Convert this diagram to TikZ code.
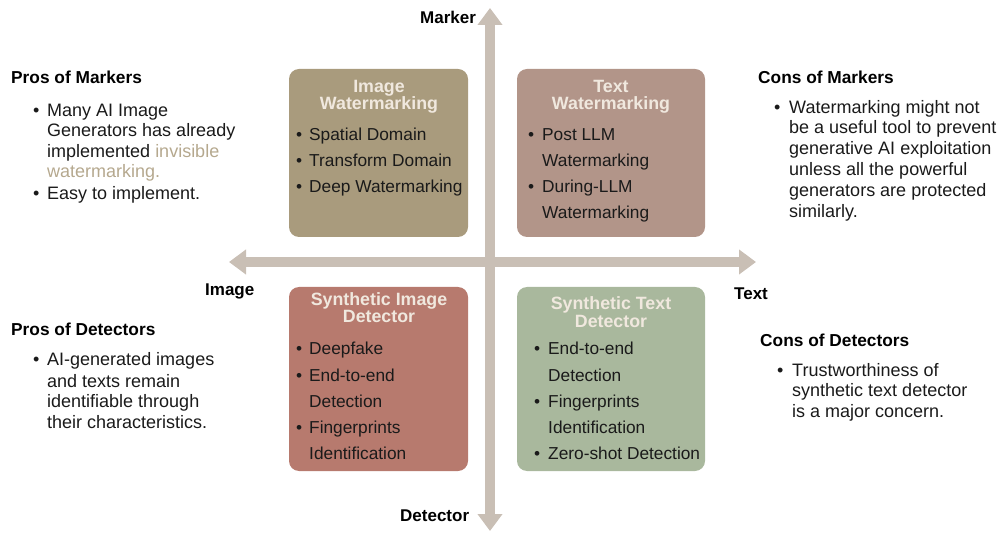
\documentclass[tikz,border=0pt]{standalone}
\usepackage{fontspec}
\setmainfont{Liberation Sans}
\usetikzlibrary{arrows.meta}
\definecolor{axis}{HTML}{C9BFB5}
\definecolor{cIW}{HTML}{A99B7D}
\definecolor{cTW}{HTML}{B29589}
\definecolor{cID}{HTML}{B77A6E}
\definecolor{cTD}{HTML}{A9B89D}
\definecolor{ttl}{HTML}{F0E8DE}
\definecolor{ink}{HTML}{1A1A1A}
\definecolor{hl}{HTML}{B5A88E}
\tikzset{
  qbox/.style={rounded corners=10pt, draw=none},
  sd/.style={anchor=base west, inner sep=0pt, text=ink, font=\fontsize{18}{20}\selectfont},
  hd/.style={anchor=base west, inner sep=0pt, text=black, font=\bfseries\fontsize{17.3}{20}\selectfont},
  ttlst/.style={anchor=base, inner sep=0pt, text=ttl, font=\bfseries\fontsize{17.8}{20}\selectfont},
  bl/.style={anchor=base west, inner sep=0pt, text=ink, font=\fontsize{17.3}{20}\selectfont},
  axlab/.style={anchor=base west, inner sep=0pt, text=black, font=\bfseries\fontsize{17}{20}\selectfont},
  axarrow/.style={draw=axis, line width=10pt, {Triangle[width=24pt,length=17pt]}-{Triangle[width=24pt,length=17pt]}}
}
\newcommand{\bu}{\textbullet}
\begin{document}
\begin{tikzpicture}[x=1pt,y=-1pt]
\useasboundingbox (0,0) rectangle (1006,534);
% axes
\coordinate (top) at (490,8);
\coordinate (bot) at (490,531);
\coordinate (lft) at (229,262);
\coordinate (rgt) at (756,262);
\draw[axarrow] (bot) -- (top);
\draw[axarrow] (lft) -- (rgt);
% axis labels
\node[axlab] (lmarker) at (420,24) {Marker};
\node[axlab] (limage) at (205,296) {Image};
\node[axlab] (ltext) at (734,300) {Text};
\node[axlab] (ldet) at (400,521) {Detector};
% boxes
\fill[qbox, cIW] (289,69) rectangle (468,237);
\fill[qbox, cTW] (517,69) rectangle (705,237);
\fill[qbox, cID] (289,287) rectangle (468,471);
\fill[qbox, cTD] (517,287) rectangle (705,471);
% Image Watermarking
\node[ttlst] (iw1) at (379,93) {Image};
\node[ttlst] (iw2) at (379,110) {Watermarking};
\node[bl] (iwb1) at (296,141) {\bu};
\node[bl] (iw3) at (309,141) {Spatial Domain};
\node[bl] (iwb2) at (296,167) {\bu};
\node[bl] (iw4) at (309,167) {Transform Domain};
\node[bl] (iwb3) at (296,193) {\bu};
\node[bl] (iw5) at (309,193) {Deep Watermarking};
% Text Watermarking
\node[ttlst] (tw1) at (611,93) {Text};
\node[ttlst] (tw2) at (611,110) {Watermarking};
\node[bl] (twb1) at (528,141) {\bu};
\node[bl] (tw3) at (542,141) {Post LLM};
\node[bl] (tw4) at (542,167) {Watermarking};
\node[bl] (twb2) at (528,193) {\bu};
\node[bl] (tw5) at (542,193) {During-LLM};
\node[bl] (tw6) at (542,219) {Watermarking};
% Synthetic Image Detector
\node[ttlst] (id1) at (379,306) {Synthetic Image};
\node[ttlst] (id2) at (379,323) {Detector};
\node[bl] (idb1) at (296,355) {\bu};
\node[bl] (id3) at (309,355) {Deepfake};
\node[bl] (idb2) at (296,381) {\bu};
\node[bl] (id4) at (309,381) {End-to-end};
\node[bl] (id5) at (309,407) {Detection};
\node[bl] (idb3) at (296,433) {\bu};
\node[bl] (id6) at (309,433) {Fingerprints};
\node[bl] (id7) at (309,459) {Identification};
% Synthetic Text Detector
\node[ttlst] (td1) at (611,310) {Synthetic Text};
\node[ttlst] (td2) at (611,327) {Detector};
\node[bl] (tdb1) at (534,355) {\bu};
\node[bl] (td3) at (548,355) {End-to-end};
\node[bl] (td4) at (548,381) {Detection};
\node[bl] (tdb2) at (534,407) {\bu};
\node[bl] (td5) at (548,407) {Fingerprints};
\node[bl] (td6) at (548,433) {Identification};
\node[bl] (tdb3) at (534,459) {\bu};
\node[bl] (td7) at (548,459) {Zero-shot Detection};
% Pros of Markers
\node[hd] (pm) at (11,84) {Pros of Markers};
\node[sd] (pmb1) at (33,117) {\bu};
\node[sd] (pm1) at (47,117) {Many AI Image};
\node[sd] (pm2) at (47,137) {Generators has already};
\node[sd] (pm3) at (47,158) {implemented \textcolor{hl}{invisible}};
\node[sd] (pm4) at (47,178) {\textcolor{hl}{watermarking.}};
\node[sd] (pmb2) at (33,200) {\bu};
\node[sd] (pm5) at (47,200) {Easy to implement.};
% Cons of Markers
\node[hd] (cm) at (758,84) {Cons of Markers};
\node[sd] (cmb1) at (774,114) {\bu};
\node[sd] (cm1) at (789,114) {Watermarking might not};
\node[sd] (cm2) at (789,134) {be a useful tool to prevent};
\node[sd] (cm3) at (789,155) {generative AI exploitation};
\node[sd] (cm4) at (789,176) {unless all the powerful};
\node[sd] (cm5) at (789,197) {generators are protected};
\node[sd] (cm6) at (789,218) {similarly.};
% Pros of Detectors
\node[hd] (pd) at (11,336) {Pros of Detectors};
\node[sd] (pdb1) at (33,366) {\bu};
\node[sd] (pd1) at (47,366) {AI-generated images};
\node[sd] (pd2) at (47,387) {and texts remain};
\node[sd] (pd3) at (47,407) {identifiable through};
\node[sd] (pd4) at (47,428) {their characteristics.};
% Cons of Detectors
\node[hd] (cd) at (760,347) {Cons of Detectors};
\node[sd] (cdb1) at (777,376) {\bu};
\node[sd] (cd1) at (792,376) {Trustworthiness of};
\node[sd] (cd2) at (792,396) {synthetic text detector};
\node[sd] (cd3) at (792,417) {is a major concern.};
\end{tikzpicture}
\end{document}
